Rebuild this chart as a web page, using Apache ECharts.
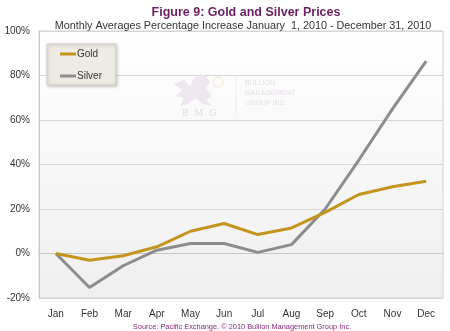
<!DOCTYPE html>
<html>
<head>
<meta charset="utf-8">
<script src="https://cdn.jsdelivr.net/npm/echarts@6/dist/echarts.min.js"></script>
<style>
  html, body { margin: 0; padding: 0; background: #ffffff; }
  #chart { width: 450px; height: 331px; }
</style>
</head>
<body>
<div id="chart"></div>
<script>
// Month categories along the x axis
const months = ['Jan', 'Feb', 'Mar', 'Apr', 'May', 'Jun', 'Jul', 'Aug', 'Sep', 'Oct', 'Nov', 'Dec'];
// Monthly average percentage increase since January 1, 2010
const goldPct = [0, -3, -1, 3, 10, 13.5, 8.5, 11.5, 18.5, 26.5, 30, 32.5];
const silverPct = [0, -15.3, -5.5, 1.5, 4.5, 4.5, 0.5, 4, 20, 42, 65, 86.5];
// Percent axis ticks
const yTicks = [-20, 0, 20, 40, 60, 80, 100];

const chart = echarts.init(document.getElementById('chart'), null, { renderer: 'canvas' });

const gridLeft = 39, gridTop = 31, gridRight = 7, gridBottom = 33;
const wm = '#e6dee8';

chart.setOption({
  backgroundColor: '#ffffff',
  animation: false,
  title: [
    {
      text: 'Figure 9: Gold and Silver Prices',
      left: 241, top: 1, textAlign: 'center',
      textStyle: { fontFamily: 'Liberation Sans', fontWeight: 'bold', fontSize: 12.5, color: '#6a1f63' }
    },
    {
      text: 'Monthly Averages Percentage Increase January  1, 2010 - December 31, 2010',
      left: 238, top: 16, textAlign: 'center',
      textStyle: { fontFamily: 'Liberation Sans', fontWeight: 'normal', fontSize: 10.8, color: '#333333' }
    },
    {
      text: 'Source: Pacific Exchange. \u00A9 2010 Bullion Management Group Inc.',
      left: 237, top: 318, textAlign: 'center',
      textStyle: { fontFamily: 'Liberation Sans', fontWeight: 'normal', fontSize: 7.4, color: '#8a2a7c' }
    }
  ],
  grid: {
    left: gridLeft, top: gridTop, right: gridRight, bottom: gridBottom,
    show: true,
    borderColor: '#d0d0d0', borderWidth: 1,
    backgroundColor: new echarts.graphic.LinearGradient(0, 0, 0, 1, [
      { offset: 0, color: '#ffffff' },
      { offset: 1, color: '#efefef' }
    ])
  },
  legend: {
    left: 47, top: 44,
    orient: 'vertical',
    itemGap: 12,
    itemWidth: 16, itemHeight: 3,
    padding: [5, 14, 4, 13],
    backgroundColor: '#eeebe4',
    borderColor: '#d2cdc3', borderWidth: 1,
    shadowColor: 'rgba(0,0,0,0.22)', shadowBlur: 3, shadowOffsetX: 1, shadowOffsetY: 1,
    icon: 'rect',
    textStyle: { fontFamily: 'Liberation Sans', fontSize: 10, color: '#333333', padding: [0, 0, 0, -4] },
    data: ['Gold', 'Silver']
  },
  xAxis: {
    type: 'category',
    data: months,
    boundaryGap: true,
    axisLine: { show: true, lineStyle: { color: '#c8c8c8' } },
    axisTick: { show: false },
    axisLabel: { fontFamily: 'Liberation Sans', fontSize: 10, color: '#333333', margin: 11 },
    splitLine: { show: false }
  },
  yAxis: {
    type: 'value',
    min: yTicks[0], max: yTicks[yTicks.length - 1], interval: 20,
    axisLine: { show: true, lineStyle: { color: '#c8c8c8' } },
    axisTick: { show: false },
    axisLabel: {
      fontFamily: 'Liberation Sans', fontSize: 10, color: '#333333', margin: 9,
      formatter: v => v + '%'
    },
    splitLine: { show: true, lineStyle: { color: '#d6d6d6', width: 1 } }
  },
  graphic: {
    elements: [
      { type: 'text', x: 245, y: 80, silent: true, z: 1,
        style: { text: 'BULLION', font: '7px "Liberation Sans"', fill: wm } },
      { type: 'text', x: 245, y: 90, silent: true, z: 1,
        style: { text: 'MANAGEMENT', font: '7px "Liberation Sans"', fill: wm } },
      { type: 'text', x: 245, y: 100, silent: true, z: 1,
        style: { text: 'GROUP INC.', font: '7px "Liberation Sans"', fill: wm } },
      { type: 'text', x: 182, y: 109, silent: true, z: 1,
        style: { text: 'B  M  G', font: '9px "DejaVu Serif"', fill: '#e6d6e2' } },
      { type: 'line', silent: true, z: 1,
        shape: { x1: 236, y1: 76, x2: 236, y2: 118 },
        style: { stroke: '#f0ebf1', lineWidth: 1 } },
      { type: 'polygon', silent: true, z: 1,
        shape: { points: [[174, 84], [184, 80], [190, 86], [194, 78], [200, 74], [206, 76], [210, 82], [206, 88], [212, 96], [206, 100], [212, 106], [202, 104], [196, 98], [188, 104], [180, 106], [184, 98], [176, 96], [182, 90]] },
        style: { fill: '#eee7ef' } },
      { type: 'circle', silent: true, z: 1,
        shape: { cx: 218, cy: 82, r: 5 },
        style: { fill: 'none', stroke: '#ede5cc', lineWidth: 1 } }
    ]
  },
  series: [
    {
      name: 'Gold', type: 'line', data: goldPct,
      symbol: 'none', smooth: false,
      lineStyle: { color: '#c4941f', width: 3 },
      itemStyle: { color: '#c4941f' },
      z: 3
    },
    {
      name: 'Silver', type: 'line', data: silverPct,
      symbol: 'none', smooth: false,
      lineStyle: { color: '#8c8c8c', width: 3 },
      itemStyle: { color: '#8c8c8c' },
      z: 2
    }
  ]
});
</script>
</body>
</html>
